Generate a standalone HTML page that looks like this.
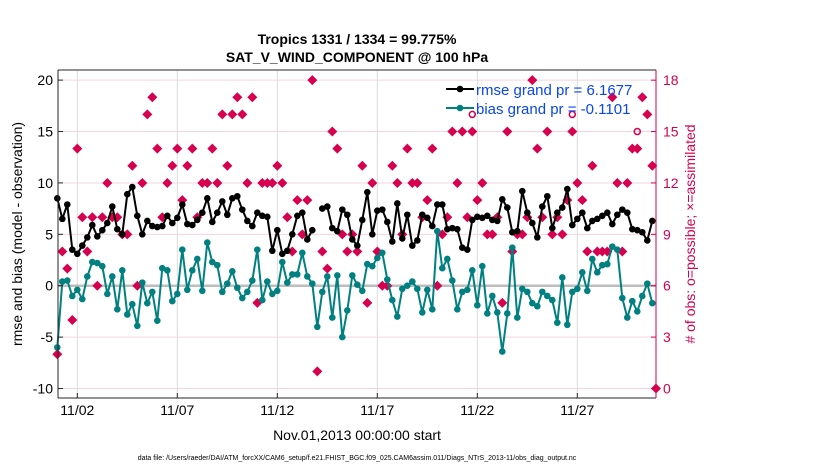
<!DOCTYPE html>
<html><head><meta charset="utf-8">
<style>
html,body{margin:0;padding:0;background:#fff;}
svg{display:block;font-family:"Liberation Sans",Arial,sans-serif;}
</style></head>
<body>
<svg id="chart" width="830" height="470" viewBox="0 0 830 470" xmlns="http://www.w3.org/2000/svg">
<rect x="0" y="0" width="830" height="470" fill="#fff"/>
<text x="357" y="44" text-anchor="middle" font-size="14" font-weight="bold">Tropics 1331 / 1334 = 99.775%</text>
<text x="357" y="62" text-anchor="middle" font-size="14" font-weight="bold">SAT_V_WIND_COMPONENT @ 100 hPa</text>
<g id="grid"></g>
<g id="marks"></g>
<g id="axes"></g>
<text transform="translate(22,234) rotate(-90)" text-anchor="middle" font-size="14">rmse and bias (model - observation)</text>
<text transform="translate(695,234) rotate(-90)" text-anchor="middle" font-size="14" fill="#d6004f"># of obs: o=possible; ×=assimilated</text>
<text x="357" y="440" text-anchor="middle" font-size="14">Nov.01,2013 00:00:00 start</text>
<text x="357" y="460" text-anchor="middle" font-size="7">data file: /Users/raeder/DAI/ATM_forcXX/CAM6_setup/f.e21.FHIST_BGC.f09_025.CAM6assim.011/Diags_NTrS_2013-11/obs_diag_output.nc</text>
<g>
<line x1="446" y1="89" x2="474" y2="89" stroke="#000" stroke-width="2"/>
<circle cx="460" cy="89" r="3.3" fill="#000"/>
<text x="476" y="95" font-size="15" fill="#0a46f0">rmse grand pr = 6.1677</text>
<line x1="446" y1="108" x2="474" y2="108" stroke="#008080" stroke-width="2"/>
<circle cx="460" cy="108" r="3.3" fill="#008080"/>
<text x="476" y="114" font-size="15" fill="#0a46f0">bias grand pr = -0.1101</text>
</g>
</svg>
<script>
const xTickLabels = ["11/02","11/07","11/12","11/17","11/22","11/27"];
const xTickDays = [1,6,11,16,21,26];
const leftTicks = [-10,-5,0,5,10,15,20];
const rightTicks = [0,3,6,9,12,15,18];
const rmse = [8.5,6.5,7.9,3.5,3.1,3.9,4.7,5.9,4.8,5.4,6.1,7.7,5.5,5.0,8.9,9.6,6.8,5.0,6.3,5.8,5.7,5.8,6.8,6.1,6.6,7.9,6.0,5.9,6.4,7.1,8.5,6.2,7.1,8.2,6.9,8.5,8.7,7.4,6.3,5.8,7.1,
6.8,6.7,3.4,5.4,3.1,3.4,5.0,6.8,7.1,4.5,5.4,null,7.5,7.7,5.6,5.3,7.4,6.9,4.5,3.9,6.4,9.1,5.0,7.3,7.4,6.2,4.3,8.0,4.6,6.9,3.9,4.4,6.9,6.6,5.8,7.9,7.9,5.5,5.6,
5.5,3.7,3.5,6.4,6.7,6.6,6.8,6.4,6.3,8.4,7.6,5.2,5.3,9.2,7.1,6.1,4.7,7.7,8.7,5.6,7.1,7.6,9.4,5.9,6.5,7.1,5.6,6.3,6.5,6.8,7.1,6.0,6.9,7.4,7.1,5.5,5.4,5.2,4.4,6.3,null];
const bias = [-6.0,0.4,0.5,-1.0,-0.4,-1.3,0.9,2.3,2.2,1.9,-0.8,0.9,-2.3,1.5,-2.8,-1.8,-3.9,0.3,-1.7,-0.6,-3.4,1.7,1.5,-1.5,-0.8,3.5,-0.4,1.5,2.6,-0.5,4.2,2.3,2.0,-0.6,0.2,1.4,-0.2,-1.2,-0.6,0.5,3.5,
-1.4,0.4,-0.8,-0.5,2.3,0.3,1.1,1.1,3.2,0.9,0.2,-4.0,-0.6,0.9,-3.1,1.0,-5.0,-2.4,1.0,0.1,-0.5,2.1,1.9,2.7,3.2,0.6,-1.4,-3.0,-0.3,0.0,0.4,-0.3,-2.6,-0.4,-2.3,5.3,1.7,2.6,0.5,
-2.3,-0.6,-0.4,1.5,-1.9,1.9,-2.7,-1.0,-2.6,-6.4,-2.7,3.7,-3.1,-0.3,-0.6,-1.7,-2.0,-0.6,-1.0,-1.4,-3.6,0.8,-3.8,-0.6,-0.3,1.3,-0.5,2.6,1.3,2.0,2.1,3.8,3.5,-1.2,-3.1,-1.5,-2.5,-1.0,0.2,-1.7,null];
const nAssim = [2,8,7,4,14,10,8,10,6,10,12,10,10,9,9,13,6,12,16,17,14,10,12,13,14,11,13,14,10,12,12,14,12,16,13,16,17,16,12,17,5,12,12,12,13,12,10,8,11,9,11,18,1,8,7,15,14,9,8,9,8,13,5,12,8,6,6,13,12,9,14,12,12,10,11,14,6,9,10,15,12,15,10,15,11,12,9,9,10,5,15,8,9,9,10,18,14,10,15,9,10,9,11,15,12,11,8,13,8,8,8,17,12,8,12,14,14,17,16,13,0];
const possibleIdx = [83,103,116];
const possibleVal = [16,16,15];

const NS="http://www.w3.org/2000/svg";
const PL=58,PR=656,PT=70,PB=398;
function xs(d){return 57.3+20*d;}
function yl(v){return 285.7-v*10.28;}
function yr(c){return 388.5-c*17.13;}
function dayOf(i){return i*0.25;}
function mk(tag,attrs,parent){const e=document.createElementNS(NS,tag);for(const k in attrs)e.setAttribute(k,attrs[k]);parent.appendChild(e);return e;}
const grid=document.getElementById('grid'),marks=document.getElementById('marks'),axes=document.getElementById('axes');

// horizontal pink grid (right axis)
rightTicks.forEach(c=>{const l=mk('line',{x1:PL,x2:PR,y1:yr(c),y2:yr(c),stroke:'#f6d3df','stroke-width':1},grid);

});
xTickDays.forEach(d=>{const l=mk('line',{x1:xs(d),x2:xs(d),y1:PT,y2:PB,stroke:'#dcdcdc','stroke-width':1},grid);

});
const z=mk('line',{x1:PL,x2:PR,y1:yl(0),y2:yl(0),stroke:'#bdbdbd','stroke-width':2.5},grid);



// obs counts (diamonds)
nAssim.forEach((c,i)=>{const x=Math.min(xs(dayOf(i)),PR),y=yr(c);
const p=mk('path',{d:`M${x},${y-5}L${x+5},${y}L${x},${y+5}L${x-5},${y}Z`,fill:'#d6004f'},marks);

});
possibleIdx.forEach((ix,k)=>{const c=mk('circle',{cx:xs(dayOf(ix)),cy:yr(possibleVal[k]),r:3,fill:'none',stroke:'#d6004f','stroke-width':1.5},marks);

});

function series(vals,color,name){
 let d='',pen=false;
 vals.forEach((v,i)=>{if(v===null){pen=false;return;}d+=(pen?'L':'M')+xs(dayOf(i)).toFixed(1)+','+yl(v).toFixed(1);pen=true;});
 const p=mk('path',{d:d,fill:'none',stroke:color,'stroke-width':2,'stroke-linejoin':'round'},marks);
 
 
 vals.forEach((v,i)=>{if(v===null)return;const c=mk('circle',{cx:xs(dayOf(i)),cy:yl(v),r:3.3,fill:color},marks);
 
 });
}
series(bias,'#008080','bias');
series(rmse,'#000000','rmse');

// frame
mk('line',{x1:PL,x2:PR,y1:PT,y2:PT,stroke:'#262626','stroke-width':1},axes);
mk('line',{x1:PL,x2:PR,y1:PB,y2:PB,stroke:'#262626','stroke-width':1},axes);
mk('line',{x1:PL,x2:PL,y1:PT,y2:PB,stroke:'#262626','stroke-width':1},axes);
mk('line',{x1:PR,x2:PR,y1:PT,y2:PB,stroke:'#d6004f','stroke-width':1},axes);
leftTicks.forEach(v=>{mk('line',{x1:PL,x2:PL+5,y1:yl(v),y2:yl(v),stroke:'#262626'},axes);
const t=mk('text',{x:PL-5,y:yl(v)+5,'text-anchor':'end','font-size':14},axes);t.textContent=v;

});
rightTicks.forEach(c=>{mk('line',{x1:PR-5,x2:PR,y1:yr(c),y2:yr(c),stroke:'#d6004f'},axes);
const t=mk('text',{x:PR+7,y:yr(c)+5,'font-size':14,fill:'#d6004f'},axes);t.textContent=c;

});
xTickDays.forEach((d,k)=>{mk('line',{x1:xs(d),x2:xs(d),y1:PB,y2:PB-5,stroke:'#262626'},axes);
const t=mk('text',{x:xs(d),y:PB+17,'text-anchor':'middle','font-size':14},axes);t.textContent=xTickLabels[k];

});
</script>
</body></html>
